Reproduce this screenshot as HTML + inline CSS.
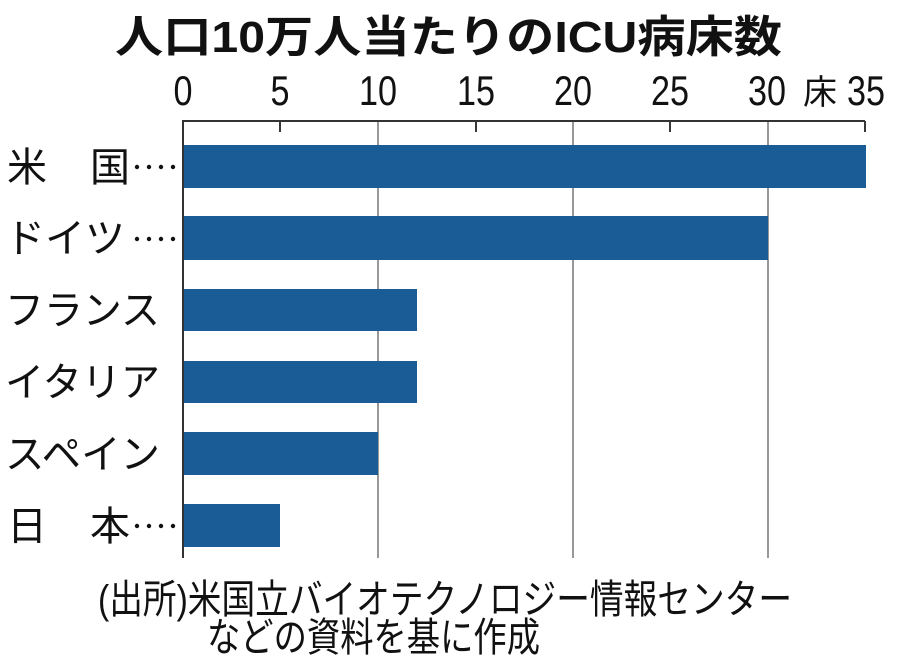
<!DOCTYPE html>
<html><head><meta charset="utf-8"><style>
html,body{margin:0;padding:0;background:#fff;}
svg{display:block;}
text{font-family:"Liberation Sans","Noto Sans CJK JP",sans-serif;fill:#111;}
</style></head><body>
<svg width="900" height="666" viewBox="0 0 900 666" xmlns="http://www.w3.org/2000/svg">
<text x="115" y="52" font-size="44" font-weight="bold" textLength="667" lengthAdjust="spacingAndGlyphs">人口10万人当たりのICU病床数</text>
<g font-size="42" text-anchor="middle">
<text x="183" y="105" textLength="19" lengthAdjust="spacingAndGlyphs">0</text>
<text x="280" y="105" textLength="19" lengthAdjust="spacingAndGlyphs">5</text>
<text x="378" y="105" textLength="38" lengthAdjust="spacingAndGlyphs">10</text>
<text x="476" y="105" textLength="38" lengthAdjust="spacingAndGlyphs">15</text>
<text x="573" y="105" textLength="38" lengthAdjust="spacingAndGlyphs">20</text>
<text x="670" y="105" textLength="38" lengthAdjust="spacingAndGlyphs">25</text>
<text x="767" y="105" textLength="38" lengthAdjust="spacingAndGlyphs">30</text>
<text x="866" y="105" textLength="38" lengthAdjust="spacingAndGlyphs">35</text>
<text x="820" y="104" font-size="34">床</text>
</g>
<g stroke="#777" stroke-width="1.5">
<line x1="378" y1="121" x2="378" y2="558"/>
<line x1="573" y1="121" x2="573" y2="558"/>
<line x1="768" y1="121" x2="768" y2="558"/>
</g>
<g stroke="#222" stroke-width="1.8">
<line x1="280" y1="121" x2="280" y2="132"/>
<line x1="476" y1="121" x2="476" y2="132"/>
<line x1="670" y1="121" x2="670" y2="132"/>
<line x1="865" y1="121" x2="865" y2="132"/>
</g>
<line x1="183" y1="121" x2="865" y2="121" stroke="#333" stroke-width="2"/>
<g fill="#1a5c96">
<rect x="183" y="145" width="683" height="43"/>
<rect x="183" y="216" width="585" height="44"/>
<rect x="183" y="289" width="234" height="42"/>
<rect x="183" y="361" width="234" height="42"/>
<rect x="183" y="432" width="195" height="43"/>
<rect x="183" y="504" width="97" height="43"/>
</g>
<line x1="183" y1="120" x2="183" y2="558" stroke="#333" stroke-width="2"/>
<g font-size="40">
<text x="7" y="181">米</text><text x="90" y="181">国</text>
<text x="5" y="252" textLength="120" lengthAdjust="spacingAndGlyphs">ドイツ</text>
<text x="5" y="324" textLength="155" lengthAdjust="spacingAndGlyphs">フランス</text>
<text x="5" y="396" textLength="155" lengthAdjust="spacingAndGlyphs">イタリア</text>
<text x="5" y="468" textLength="155" lengthAdjust="spacingAndGlyphs">スペイン</text>
<text x="7" y="540">日</text><text x="90" y="540">本</text>
</g>
<g fill="#111">
<circle cx="137" cy="167" r="2.2"/><circle cx="149" cy="167" r="2.2"/><circle cx="161" cy="167" r="2.2"/><circle cx="173" cy="167" r="2.2"/>
<circle cx="137" cy="239" r="2.2"/><circle cx="149" cy="239" r="2.2"/><circle cx="161" cy="239" r="2.2"/><circle cx="173" cy="239" r="2.2"/>
<circle cx="137" cy="526" r="2.2"/><circle cx="149" cy="526" r="2.2"/><circle cx="161" cy="526" r="2.2"/><circle cx="173" cy="526" r="2.2"/>
</g>
<text x="98" y="613" font-size="40" textLength="694" lengthAdjust="spacingAndGlyphs">(出所)米国立バイオテクノロジー情報センター</text>
<text x="207" y="651" font-size="40" textLength="333" lengthAdjust="spacingAndGlyphs">などの資料を基に作成</text>
</svg>
</body></html>
